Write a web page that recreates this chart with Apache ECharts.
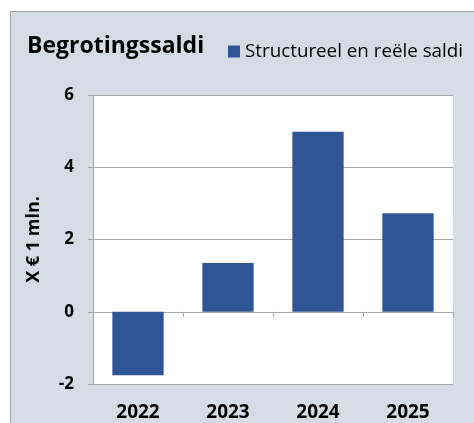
<!DOCTYPE html>
<html>
<head>
<meta charset="utf-8">
<script src="https://cdn.jsdelivr.net/npm/echarts@6/dist/echarts.min.js"></script>
<style>
html,body{margin:0;padding:0;background:#fff;}
#c{width:474px;height:423px;}
</style>
</head>
<body>
<div id="c"></div>
<script>
const categories = ['2022', '2023', '2024', '2025'];
const saldi = [-1.76, 1.35, 4.98, 2.73];
const seriesName = 'Structureel en reële saldi';
const chartTitle = 'Begrotingssaldi';
const yAxisName = 'X € 1 mln.';

const FONT = '"Open Sans"';
const chart = echarts.init(document.getElementById('c'), null, {renderer: 'canvas'});
chart.setOption({
  backgroundColor: '#ffffff',
  animation: false,
  graphic: [{
    type: 'rect', z: -10, silent: true,
    shape: {x: 10.5, y: 11.5, width: 480, height: 430},
    style: {fill: '#D6DCE5', stroke: '#A6A6A6', lineWidth: 1}
  }],
  title: {
    text: chartTitle, left: 22, top: 30,
    textStyle: {fontFamily: FONT, fontWeight: 'bold', fontSize: 23, color: '#000'}
  },
  legend: {
    left: 223, top: 37, itemWidth: 12, itemHeight: 12, icon: 'rect', itemGap: 6,
    textStyle: {fontFamily: FONT, fontSize: 18.8, color: '#000'},
    data: [seriesName]
  },
  grid: {left: 93, top: 95, right: 21, bottom: 39, show: true, backgroundColor: '#ffffff', borderWidth: 0},
  xAxis: [{
    type: 'category', data: categories, position: 'bottom',
    axisLine: {show: false, onZero: false}, axisTick: {show: false},
    axisLabel: {fontFamily: FONT, fontWeight: 'bold', fontSize: 19, lineHeight: 19, color: '#000', margin: 19}
  }, {
    type: 'category', data: categories, position: 'top',
    axisLine: {show: true, onZero: true, lineStyle: {color: '#A6A6A6', width: 1}},
    axisTick: {show: true, inside: true, length: 5, lineStyle: {color: '#A6A6A6'}},
    axisLabel: {show: false}
  }],
  yAxis: {
    type: 'value', min: -2, max: 6, interval: 2,
    name: yAxisName, nameLocation: 'middle', nameGap: 50,
    nameTextStyle: {fontFamily: FONT, fontWeight: 'bold', fontSize: 18, color: '#000'},
    axisLine: {show: true, lineStyle: {color: '#A6A6A6'}},
    axisTick: {show: true, length: 5, lineStyle: {color: '#A6A6A6'}},
    axisLabel: {fontFamily: FONT, fontWeight: 'bold', fontSize: 17, color: '#000', margin: 19},
    splitLine: {show: true, lineStyle: {color: '#A6A6A6', width: 1}}
  },
  series: [{
    name: seriesName, type: 'bar', data: saldi, xAxisIndex: 0,
    barWidth: '57%',
    itemStyle: {color: '#2F5597'}
  }]
});
</script>
</body>
</html>
